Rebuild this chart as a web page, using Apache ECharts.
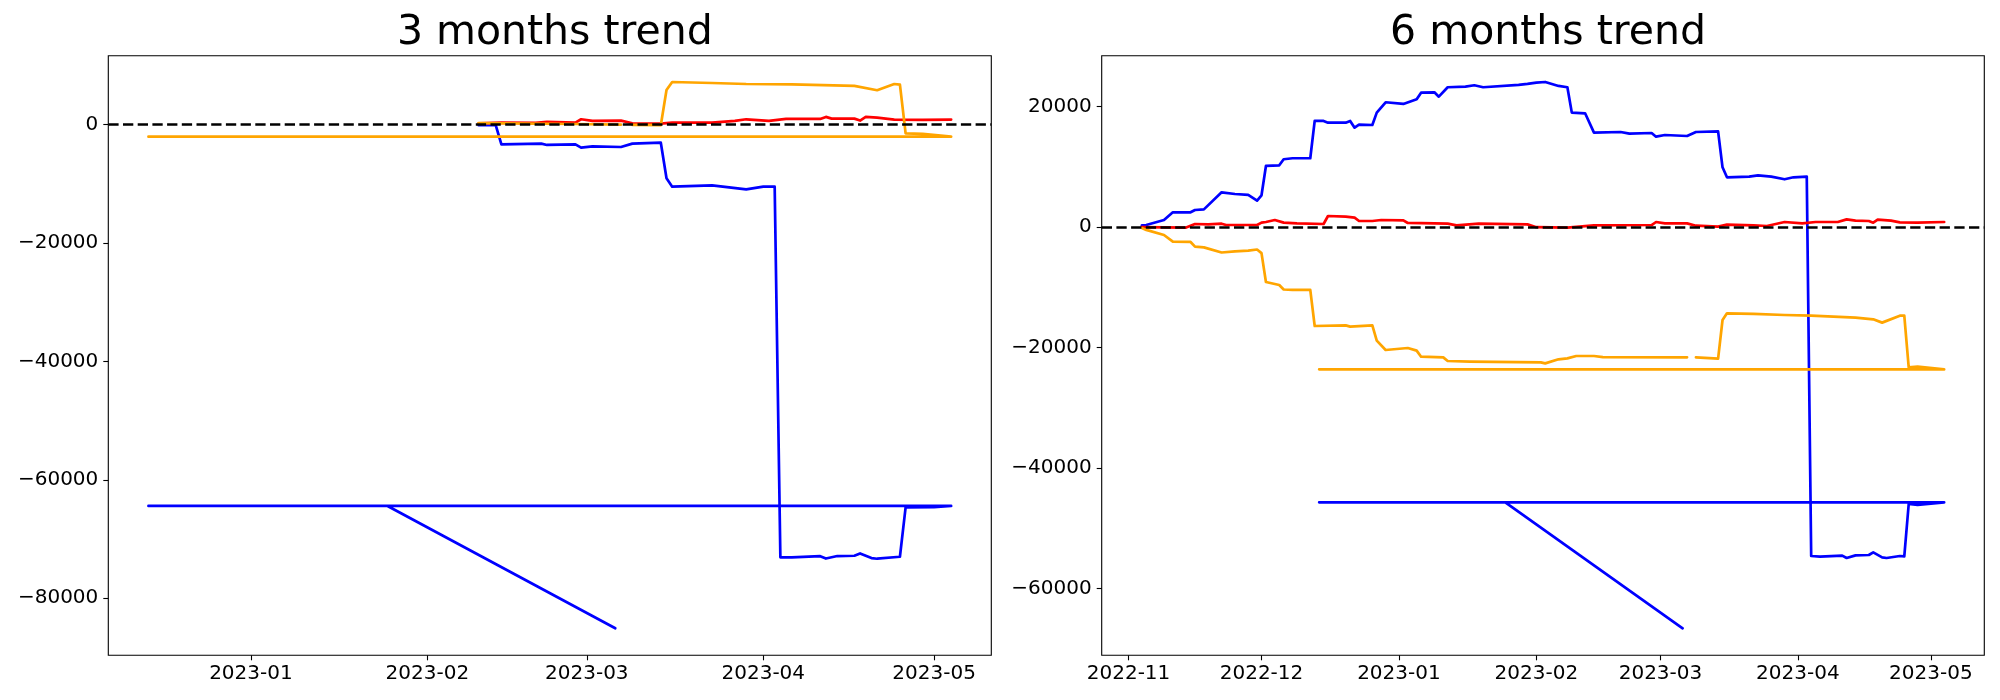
<!DOCTYPE html>
<html>
<head>
<meta charset="utf-8">
<script src="https://cdn.jsdelivr.net/npm/echarts@6/dist/echarts.min.js"></script>
<style>
html,body{margin:0;padding:0;background:#fff;}
#chart{width:2000px;height:700px;}
</style>
</head>
<body>
<div id="chart"></div>
<script>
// ---------- data ----------
const titles = ['3 months trend', '6 months trend'];
const monthTicks3 = ['2023-01-01', '2023-02-01', '2023-03-01', '2023-04-01', '2023-05-01'];
const monthTicks6 = ['2022-11-01', '2022-12-01', '2023-01-01', '2023-02-01', '2023-03-01', '2023-04-01', '2023-05-01'];
const yTicks3 = [-80000, -60000, -40000, -20000, 0];
const yTicks6 = [-60000, -40000, -20000, 0, 20000];

// 3 months chart
const blue3 = [
  ['2023-02-10', -100], ['2023-02-13', -100], ['2023-02-14', -3330], ['2023-02-21', -3220],
  ['2023-02-22', -3440], ['2023-02-27', -3330], ['2023-02-28', -3890], ['2023-03-02', -3670],
  ['2023-03-07', -3780], ['2023-03-09', -3220], ['2023-03-14', -3050], ['2023-03-15', -9070],
  ['2023-03-16', -10490], ['2023-03-23', -10270], ['2023-03-29', -10950], ['2023-04-01', -10490],
  ['2023-04-03', -10490], ['2023-04-04', -73090], ['2023-04-06', -73090], ['2023-04-11', -72900],
  ['2023-04-12', -73300], ['2023-04-14', -72880], ['2023-04-17', -72830], ['2023-04-18', -72440],
  ['2023-04-20', -73220], ['2023-04-21', -73330], ['2023-04-25', -73000], ['2023-04-26', -64650],
  ['2023-05-01', -64600], ['2023-05-04', -64420],
  ['2022-12-14', -64420], ['2023-01-25', -64420], ['2023-03-06', -85080]
];
const red3 = [
  ['2023-02-10', 200], ['2023-02-14', 330], ['2023-02-20', 280], ['2023-02-22', 450],
  ['2023-02-27', 330], ['2023-02-28', 900], ['2023-03-02', 620], ['2023-03-07', 680],
  ['2023-03-09', 220], ['2023-03-14', 170], ['2023-03-16', 330], ['2023-03-23', 330],
  ['2023-03-27', 620], ['2023-03-29', 900], ['2023-04-02', 620], ['2023-04-05', 960],
  ['2023-04-11', 960], ['2023-04-12', 1300], ['2023-04-13', 1010], ['2023-04-17', 1010],
  ['2023-04-18', 680], ['2023-04-19', 1300], ['2023-04-21', 1180], ['2023-04-24', 840],
  ['2023-04-29', 790], ['2023-05-04', 840]
];
const orange3 = [
  ['2023-02-10', 250], ['2023-02-27', 100], ['2023-03-07', 0], ['2023-03-08', null],
  ['2023-03-09', -50], ['2023-03-14', -100], ['2023-03-15', 5840], ['2023-03-16', 7200],
  ['2023-03-23', 7030], ['2023-03-29', 6860], ['2023-04-06', 6810], ['2023-04-17', 6530],
  ['2023-04-21', 5800], ['2023-04-24', 6860], ['2023-04-25', 6750], ['2023-04-26', -1470],
  ['2023-04-29', -1580], ['2023-05-04', -2040],
  ['2022-12-14', -2040], ['2023-03-06', -2040]
];

// 6 months chart
const blue6 = [
  ['2022-11-04', 300], ['2022-11-05', 350], ['2022-11-09', 1200], ['2022-11-11', 2470],
  ['2022-11-15', 2470], ['2022-11-16', 2850], ['2022-11-18', 2960], ['2022-11-22', 5790],
  ['2022-11-25', 5510], ['2022-11-28', 5350], ['2022-11-30', 4400], ['2022-12-01', 5290],
  ['2022-12-02', 10160], ['2022-12-05', 10270], ['2022-12-06', 11270], ['2022-12-08', 11440],
  ['2022-12-12', 11440], ['2022-12-13', 17630], ['2022-12-15', 17630], ['2022-12-16', 17350],
  ['2022-12-20', 17350], ['2022-12-21', 17630], ['2022-12-22', 16520], ['2022-12-23', 17020],
  ['2022-12-26', 16960], ['2022-12-27', 19010], ['2022-12-29', 20730], ['2023-01-02', 20450],
  ['2023-01-05', 21220], ['2023-01-06', 22330], ['2023-01-09', 22380], ['2023-01-10', 21660],
  ['2023-01-12', 23220], ['2023-01-16', 23330], ['2023-01-18', 23550], ['2023-01-20', 23220],
  ['2023-01-28', 23610], ['2023-01-30', 23770], ['2023-02-01', 23990], ['2023-02-03', 24100],
  ['2023-02-06', 23440], ['2023-02-08', 23220], ['2023-02-09', 19010], ['2023-02-12', 18900],
  ['2023-02-14', 15690], ['2023-02-20', 15800], ['2023-02-22', 15520], ['2023-02-27', 15630],
  ['2023-02-28', 15020], ['2023-03-02', 15300], ['2023-03-07', 15130], ['2023-03-09', 15800],
  ['2023-03-14', 15910], ['2023-03-15', 9940], ['2023-03-16', 8280], ['2023-03-21', 8390],
  ['2023-03-23', 8610], ['2023-03-26', 8390], ['2023-03-29', 7950], ['2023-03-31', 8280],
  ['2023-04-03', 8390], ['2023-04-04', -54570], ['2023-04-06', -54680], ['2023-04-11', -54510],
  ['2023-04-12', -54900], ['2023-04-14', -54460], ['2023-04-17', -54400], ['2023-04-18', -53960],
  ['2023-04-20', -54790], ['2023-04-21', -54900], ['2023-04-24', -54570], ['2023-04-25', -54630],
  ['2023-04-26', -45940], ['2023-04-28', -46100], ['2023-05-04', -45660],
  ['2022-12-14', -45660], ['2023-01-25', -45660], ['2023-03-06', -66570]
];
const red6 = [
  ['2022-11-04', 0], ['2022-11-14', -60], ['2022-11-16', 530], ['2022-11-19', 470],
  ['2022-11-22', 580], ['2022-11-23', 360], ['2022-11-30', 360], ['2022-12-01', 750],
  ['2022-12-02', 860], ['2022-12-04', 1190], ['2022-12-06', 750], ['2022-12-09', 640],
  ['2022-12-15', 530], ['2022-12-16', 1860], ['2022-12-20', 1750], ['2022-12-22', 1580],
  ['2022-12-23', 1030], ['2022-12-26', 1030], ['2022-12-28', 1190], ['2023-01-02', 1140],
  ['2023-01-03', 700], ['2023-01-12', 580], ['2023-01-14', 310], ['2023-01-19', 580],
  ['2023-01-30', 470], ['2023-02-01', 0], ['2023-02-08', -60], ['2023-02-14', 310],
  ['2023-02-27', 360], ['2023-02-28', 860], ['2023-03-02', 640], ['2023-03-07', 640],
  ['2023-03-09', 250], ['2023-03-14', 90], ['2023-03-16', 420], ['2023-03-22', 310],
  ['2023-03-25', 200], ['2023-03-29', 860], ['2023-04-02', 640], ['2023-04-05', 860],
  ['2023-04-10', 860], ['2023-04-12', 1300], ['2023-04-14', 1080], ['2023-04-17', 1030],
  ['2023-04-18', 750], ['2023-04-19', 1250], ['2023-04-22', 1080], ['2023-04-24', 810],
  ['2023-04-28', 750], ['2023-05-04', 860]
];
const orange6 = [
  ['2022-11-04', -150], ['2022-11-05', -450], ['2022-11-09', -1290], ['2022-11-11', -2400],
  ['2022-11-15', -2450], ['2022-11-16', -3230], ['2022-11-18', -3350], ['2022-11-22', -4200],
  ['2022-11-25', -4000], ['2022-11-28', -3900], ['2022-11-30', -3700], ['2022-12-01', -4300],
  ['2022-12-02', -9100], ['2022-12-05', -9600], ['2022-12-06', -10340], ['2022-12-08', -10400],
  ['2022-12-12', -10400], ['2022-12-13', -16400], ['2022-12-20', -16290], ['2022-12-21', -16510],
  ['2022-12-26', -16290], ['2022-12-27', -18830], ['2022-12-29', -20380], ['2023-01-03', -20050],
  ['2023-01-05', -20490], ['2023-01-06', -21490], ['2023-01-11', -21600], ['2023-01-12', -22210],
  ['2023-01-17', -22320], ['2023-02-02', -22430], ['2023-02-03', -22600], ['2023-02-06', -21930],
  ['2023-02-08', -21770], ['2023-02-10', -21380], ['2023-02-14', -21380], ['2023-02-16', -21550],
  ['2023-03-07', -21600], ['2023-03-08', null], ['2023-03-09', -21600], ['2023-03-14', -21820],
  ['2023-03-15', -15400], ['2023-03-16', -14290], ['2023-03-22', -14400], ['2023-03-29', -14570],
  ['2023-04-04', -14680], ['2023-04-14', -15010], ['2023-04-18', -15290], ['2023-04-20', -15840],
  ['2023-04-24', -14680], ['2023-04-25', -14680], ['2023-04-26', -23250], ['2023-04-28', -23140],
  ['2023-05-04', -23590],
  ['2022-12-14', -23590], ['2023-03-06', -23590]
];

// ---------- helpers ----------
const DAY = 86400000;
function t(s) { const p = s.split('-').map(Number); return new Date(p[0], p[1] - 1, p[2]).getTime(); }
function pts(arr) { return arr.map(d => [t(d[0]), d[1] === null ? '-' : d[1]]); }
function fmtDate(v) { const d = new Date(v); const m = d.getMonth() + 1; return d.getFullYear() + '-' + (m < 10 ? '0' + m : m); }
function fmtNum(v) { return String(v).replace('-', '\u2212'); }

const FONT = 'DejaVu Sans';
const gridTop = 55.7, gridH = 599.6;

const xRange3 = [t('2022-12-14') - 7.05 * DAY, t('2023-05-04') + 7.05 * DAY];
const xRange6 = [t('2022-11-04') - 9.05 * DAY, t('2023-05-04') + 9.05 * DAY];
const yRange3 = [-89645, 11640];
const yRange6 = [-71050, 28460];

function xAxis(idx, range, ticks) {
  const vals = ticks.map(t);
  return {
    type: 'value', gridIndex: idx, min: range[0], max: range[1], scale: true,
    axisLine: { show: false, onZero: false },
    splitLine: { show: false },
    axisTick: { show: true, length: 5, customValues: vals, lineStyle: { color: '#000', width: 1.1 } },
    axisLabel: { customValues: vals, formatter: fmtDate, color: '#000', fontFamily: FONT, fontSize: 20, margin: 8, hideOverlap: false }
  };
}
function yAxis(idx, range, ticks) {
  return {
    type: 'value', gridIndex: idx, min: range[0], max: range[1], scale: true,
    axisLine: { show: false, onZero: false },
    splitLine: { show: false },
    axisTick: { show: true, length: 5, customValues: ticks, lineStyle: { color: '#000', width: 1.1 } },
    axisLabel: { customValues: ticks, formatter: fmtNum, color: '#000', fontFamily: FONT, fontSize: 20, margin: 10 }
  };
}
function lineSeries(idx, data, color, z) {
  return {
    type: 'line', xAxisIndex: idx, yAxisIndex: idx, data: pts(data),
    showSymbol: false, symbol: 'none', connectNulls: false, animation: false,
    lineStyle: { color: color, width: 2.7, cap: 'round', join: 'round' }, z: z
  };
}
function zeroLine(idx) {
  return {
    type: 'line', xAxisIndex: idx, yAxisIndex: idx, data: [], z: 10, animation: false,
    markLine: {
      silent: true, symbol: ['none', 'none'], animation: false, label: { show: false },
      lineStyle: { color: '#000', type: [10.3, 4.4], width: 2.5 },
      data: [{ yAxis: 0 }]
    }
  };
}

const option = {
  backgroundColor: '#fff',
  animation: false,
  title: [
    { text: titles[0], left: 549.8, top: 8, textAlign: 'center', textStyle: { fontFamily: FONT, fontSize: 41, fontWeight: 'normal', color: '#000' } },
    { text: titles[1], left: 1543, top: 8, textAlign: 'center', textStyle: { fontFamily: FONT, fontSize: 41, fontWeight: 'normal', color: '#000' } }
  ],
  grid: [
    { left: 108.3, top: gridTop, width: 883, height: gridH, show: true, borderColor: '#000', borderWidth: 1.1, backgroundColor: 'transparent' },
    { left: 1101.7, top: gridTop, width: 882.6, height: gridH, show: true, borderColor: '#000', borderWidth: 1.1, backgroundColor: 'transparent' }
  ],
  xAxis: [xAxis(0, xRange3, monthTicks3), xAxis(1, xRange6, monthTicks6)],
  yAxis: [yAxis(0, yRange3, yTicks3), yAxis(1, yRange6, yTicks6)],
  series: [
    lineSeries(0, blue3, '#0000ff', 2), lineSeries(0, red3, '#ff0000', 3), lineSeries(0, orange3, '#ffa500', 4), zeroLine(0),
    lineSeries(1, blue6, '#0000ff', 2), lineSeries(1, red6, '#ff0000', 3), lineSeries(1, orange6, '#ffa500', 4), zeroLine(1)
  ]
};
const chart = echarts.init(document.getElementById('chart'), null, { renderer: 'canvas' });
chart.setOption(option);
</script>
</body>
</html>
